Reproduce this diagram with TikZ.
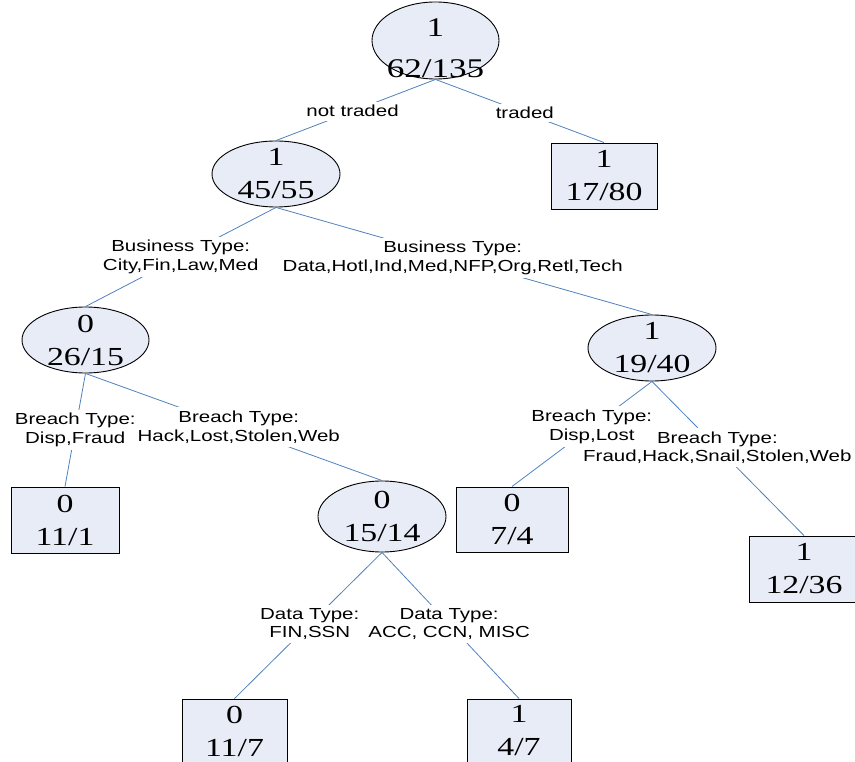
\documentclass[tikz,border=0pt]{standalone}
\usepackage{fontspec}
\usetikzlibrary{shapes.geometric}
\newfontfamily\numfont[FakeStretch=1.3]{Liberation Serif}
\newfontfamily\labfont[FakeStretch=1.28]{Liberation Sans}
\definecolor{shapefill}{RGB}{231,236,247}
\definecolor{edgeblue}{RGB}{79,129,189}
\tikzset{
  shapebase/.style={draw=black, line width=0.9pt, fill=shapefill},
  ellnode/.style={shapebase, ellipse, inner sep=0pt},
  boxnode/.style={shapebase, rectangle, inner sep=0pt},
  numtext/.style={font=\numfont\fontsize{26}{33}\selectfont, align=center, inner sep=0pt},
  roottext/.style={font=\numfont\fontsize{27}{41}\selectfont, align=center, inner sep=0pt},
  conn/.style={draw=edgeblue, line width=0.8pt},
  lab/.style={font=\labfont\fontsize{16}{18.5}\selectfont, align=center, fill=white, inner xsep=2pt, inner ysep=3.5pt},
}
\begin{document}
\begin{tikzpicture}[x=1pt, y=-1pt]
\useasboundingbox (0,0) rectangle (855,762);
\clip (0,0) rectangle (855,762);
% shapes
\node[ellnode, minimum width=127pt, minimum height=77pt] (root) at (435.5,40.5) {};
\node[ellnode, minimum width=128pt, minimum height=66pt] (n1) at (276,174) {};
\node[boxnode, minimum width=106pt, minimum height=66pt] (leafT) at (604,176) {};
\node[ellnode, minimum width=127pt, minimum height=66pt] (n2) at (85.5,340) {};
\node[ellnode, minimum width=128pt, minimum height=66pt] (n3) at (652,348) {};
\node[boxnode, minimum width=108pt, minimum height=66pt] (leafA) at (65,520) {};
\node[ellnode, minimum width=128pt, minimum height=71pt] (n4) at (382,516.5) {};
\node[boxnode, minimum width=112pt, minimum height=65pt] (leafB) at (512,519.5) {};
\node[boxnode, minimum width=110pt, minimum height=66pt] (leafC) at (804,569) {};
\node[boxnode, minimum width=105pt, minimum height=66pt] (leafD) at (234.5,732) {};
\node[boxnode, minimum width=104pt, minimum height=66pt] (leafE) at (519,732) {};
% texts
\node[roottext] (rootT) at (435.5,48) {1\\62/135};
\node[numtext] (n1T) at (n1) {1\\45/55};
\node[numtext] (leafTT) at (leafT) {1\\17/80};
\node[numtext] (n2T) at (n2) {0\\26/15};
\node[numtext] (n3T) at (n3) {1\\19/40};
\node[numtext] (leafAT) at (leafA) {0\\11/1};
\node[numtext] (n4T) at (n4) {0\\15/14};
\node[numtext] (leafBT) at (leafB) {0\\7/4};
\node[numtext] (leafCT) at (leafC) {1\\12/36};
\node[numtext] (leafDT) at (234.5,731) {0\\11/7};
\node[numtext] (leafET) at (519,731) {1\\4/7};
% connectors
\draw[conn] (root.south) -- node[lab, pos=0.52] (l1) {not traded} (n1.north);
\draw[conn] (root.south) -- node[lab, pos=0.53] (l2) {traded} (leafT.north);
\draw[conn] (n1.south) -- node[lab, pos=0.5] (l3) {Business Type:\\City,Fin,Law,Med} (n2.north);
\draw[conn] (n1.south) -- node[lab, pos=0.47] (l4) {Business Type:\\Data,Hotl,Ind,Med,NFP,Org,Retl,Tech} (n3.north);
\draw[conn] (n2.south) -- node[lab, pos=0.5, xshift=5pt] (l6) {Breach Type:\\Hack,Lost,Stolen,Web} (n4.north);
\draw[conn] (n2.south) -- node[lab, pos=0.5] (l5) {Breach Type:\\Disp,Fraud} (leafA.north);
\draw[conn] (n3.south) -- node[lab, pos=0.43] (l8) {Breach Type:\\Fraud,Hack,Snail,Stolen,Web} (leafC.north);
\draw[conn] (n3.south) -- node[lab, pos=0.43] (l7) {Breach Type:\\Disp,Lost} (leafB.north);
\draw[conn] (n4.south) -- node[lab, pos=0.49] (l9) {Data Type:\\FIN,SSN} (leafD.north);
\draw[conn] (n4.south) -- node[lab, pos=0.49] (l10) {Data Type:\\ACC, CCN, MISC} (leafE.north);
\end{tikzpicture}
\end{document}
